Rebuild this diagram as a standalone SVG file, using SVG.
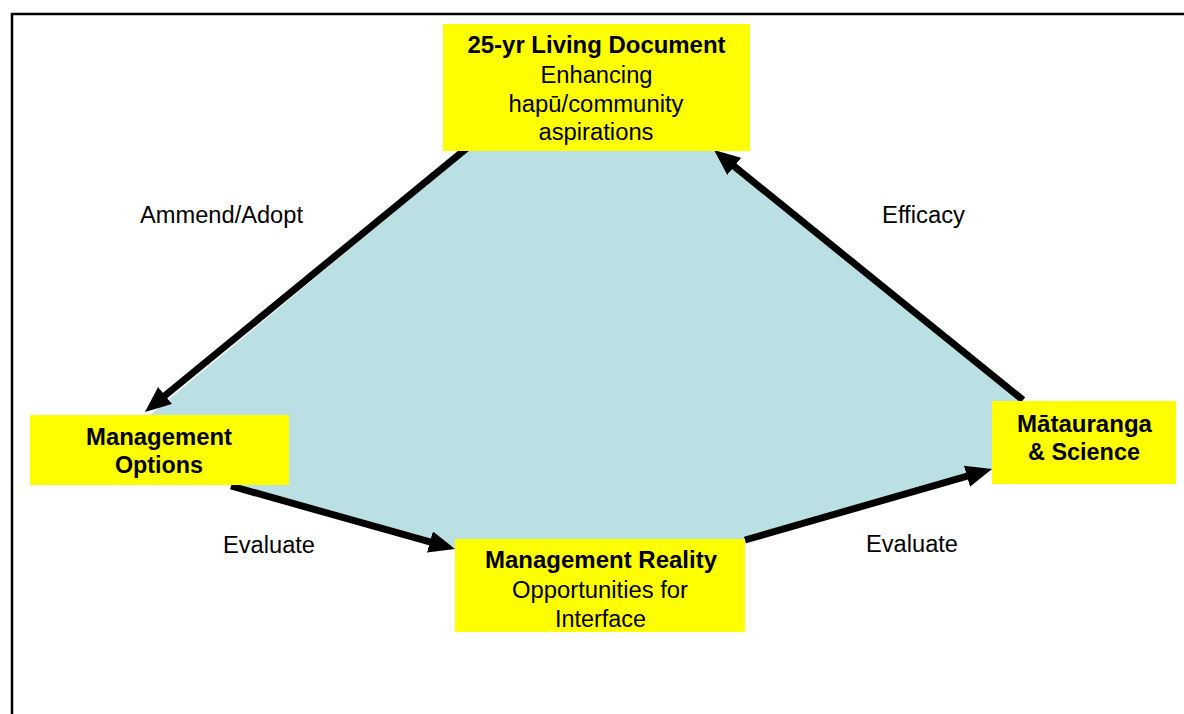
<svg xmlns="http://www.w3.org/2000/svg" width="1184" height="714" viewBox="0 0 1184 714">
  <style>
    .box { fill: #ffff00; }
    .t { font-family: "Liberation Sans", Arial, sans-serif; font-size: 23px; fill: #000; text-anchor: middle; }
    .b { font-weight: bold; }
    .conn { stroke: #000; stroke-width: 7; fill: none; marker-end: url(#head); }
  </style>
  <defs>
    <marker id="head" markerUnits="userSpaceOnUse" markerWidth="26" markerHeight="22" viewBox="0 0 26 22" refX="12" refY="11" orient="auto">
      <path d="M0,0 L26,11 L0,22 z" fill="#000"/>
    </marker>
  </defs>

  <!-- page background and frame -->
  <rect x="0" y="0" width="1184" height="714" fill="#ffffff"/>
  <rect x="12" y="14" width="1200" height="740" fill="none" stroke="#000" stroke-width="2.5"/>

  <!-- shaded cycle area -->
  <polygon points="468,151 716,151 1023,401 992,401 992,470 745,540 455,547 231,485 150,415" fill="#bae0e3"/>

  <!-- cycle connectors -->
  <g id="connectors">
    <line class="conn" x1="467" y1="148" x2="155.8" y2="403.1"/>
    <line class="conn" x1="231" y1="486" x2="441.5" y2="545.2"/>
    <line class="conn" x1="745" y1="540" x2="978.5" y2="472.9"/>
    <line class="conn" x1="1023" y1="400" x2="724.9" y2="158.8"/>
  </g>

  <!-- connector labels -->
  <g id="labels">
    <text class="t" x="221.5" y="223" textLength="163" lengthAdjust="spacingAndGlyphs">Ammend/Adopt</text>
    <text class="t" x="923.5" y="223" textLength="83" lengthAdjust="spacingAndGlyphs">Efficacy</text>
    <text class="t" x="269" y="553" textLength="92" lengthAdjust="spacingAndGlyphs">Evaluate</text>
    <text class="t" x="912" y="552" textLength="92" lengthAdjust="spacingAndGlyphs">Evaluate</text>
  </g>

  <g id="living-document">
    <rect class="box" x="443" y="24" width="307" height="127"/>
    <text class="t b" x="596.5" y="53" textLength="258" lengthAdjust="spacingAndGlyphs">25-yr Living Document</text>
    <text class="t" x="596.5" y="83" textLength="112" lengthAdjust="spacingAndGlyphs">Enhancing</text>
    <text class="t" x="596" y="112" textLength="175" lengthAdjust="spacingAndGlyphs">hapū/community</text>
    <text class="t" x="596" y="140" textLength="115" lengthAdjust="spacingAndGlyphs">aspirations</text>
  </g>

  <g id="management-options">
    <rect class="box" x="30" y="415" width="259" height="70"/>
    <text class="t b" x="159" y="445" textLength="146" lengthAdjust="spacingAndGlyphs">Management</text>
    <text class="t b" x="159" y="473" textLength="88" lengthAdjust="spacingAndGlyphs">Options</text>
  </g>

  <g id="management-reality">
    <rect class="box" x="455" y="539" width="290" height="93"/>
    <text class="t b" x="601" y="568" textLength="232" lengthAdjust="spacingAndGlyphs">Management Reality</text>
    <text class="t" x="600" y="598" textLength="176" lengthAdjust="spacingAndGlyphs">Opportunities for</text>
    <text class="t" x="600.5" y="627" textLength="91" lengthAdjust="spacingAndGlyphs">Interface</text>
  </g>

  <g id="matauranga-science">
    <rect class="box" x="992" y="401" width="184" height="83"/>
    <text class="t b" x="1084.5" y="432" textLength="135" lengthAdjust="spacingAndGlyphs">Mātauranga</text>
    <text class="t b" x="1084" y="460" textLength="112" lengthAdjust="spacingAndGlyphs">&amp; Science</text>
  </g>
</svg>
